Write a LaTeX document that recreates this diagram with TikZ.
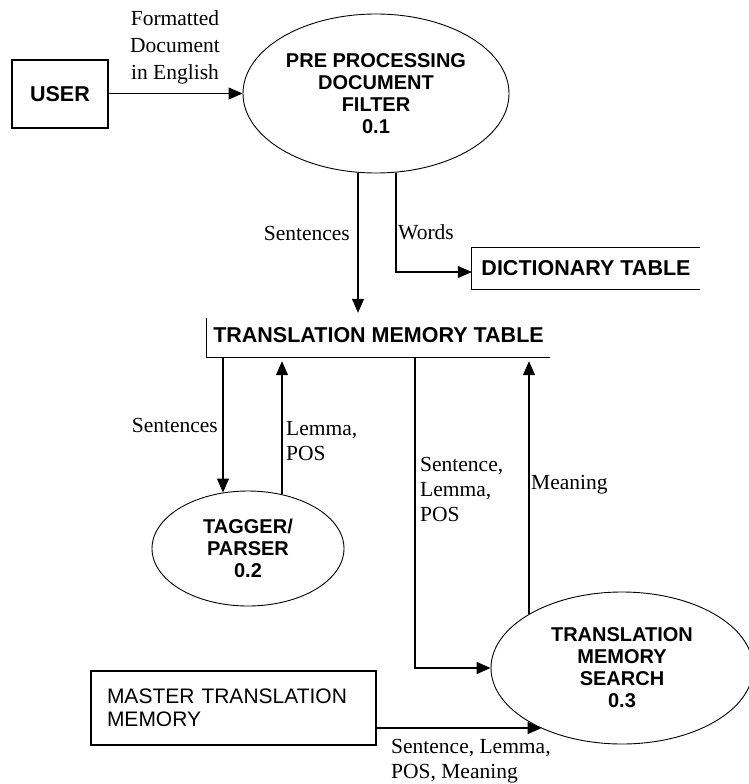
\documentclass[tikz,border=0pt]{standalone}
\usepackage{fontspec}
\setmainfont{Liberation Serif}
\setsansfont{Liberation Sans}
\usetikzlibrary{arrows.meta,shapes.geometric}

\begin{document}
\begin{tikzpicture}[x=1pt,y=-1pt,
  flow/.style={line width=1.2pt,-{Triangle[length=14pt,width=12pt]}},
  plain/.style={line width=1.2pt},
  process/.style={ellipse,draw,line width=0.9pt,inner sep=0pt,align=center,
    font=\sffamily\bfseries\fontsize{20}{22}\selectfont},
  entity/.style={rectangle,draw,line width=1.2pt,inner sep=0pt,
    font=\sffamily\bfseries\fontsize{21.5}{23}\selectfont},
  store/.style={rectangle,inner sep=0pt,
    font=\sffamily\bfseries\fontsize{21.5}{23}\selectfont},
  flowlabel/.style={inner sep=0pt,align=left,font=\fontsize{21.5}{25}\selectfont},
]
\useasboundingbox (0,0) rectangle (749,784);

% external entities and processes
\node[entity,minimum width=96pt,minimum height=68pt] (user) at (60,94) {USER};
\node[process,minimum width=266pt,minimum height=159pt] (pre) at (376,93.5)
  {PRE PROCESSING\\DOCUMENT\\FILTER\\0.1};
\node[process,minimum width=192pt,minimum height=115pt] (tagger) at (248,548.5)
  {TAGGER/\\PARSER\\0.2};
\node[process,minimum width=262pt,minimum height=152pt] (search) at (622,668)
  {TRANSLATION\\MEMORY\\SEARCH\\0.3};
\node[rectangle,draw,line width=1.2pt,minimum width=285pt,minimum height=74pt,
  inner sep=0pt,text width=253pt,align=left,
  font=\sffamily\fontsize{21}{23}\selectfont] (master) at (233.5,708)
  {MASTER TRANSLATION\\MEMORY};

% data stores (open-sided)
\node[store,minimum width=228pt,minimum height=41pt] (dict) at (586,268.5) {DICTIONARY TABLE};
\node[store,minimum width=343pt,minimum height=44pt] (tm) at (378.5,335) {TRANSLATION MEMORY TABLE};
\draw[plain] (dict.north east) -- (dict.north west) -- (dict.south west) -- (dict.south east);
\draw[plain] ([yshift=-5pt]tm.north west) -- (tm.south west) -- (tm.south east);

% vertical lanes of the data flows
\coordinate (laneA) at (358,0);
\coordinate (laneB) at (396,0);
\coordinate (laneC) at (223,0);
\coordinate (laneD) at (282,0);
\coordinate (laneE) at (415,0);
\coordinate (laneF) at (529,0);
\coordinate (mrow) at ([yshift=-20pt]master.east);

% data flows
\draw[flow] (user.east |- pre.west) -- (pre.west);
\draw[flow] (laneA |- pre.south) -- (laneA |- tm.north);
\draw[flow] (laneB |- pre.south) |- ([yshift=-3.5pt]dict.west);
\draw[flow] (laneC |- tm.south) -- (laneC |- tagger.114);
\draw[flow,shorten >=4pt] (laneD |- tagger.58) -- (laneD |- tm.south);
\draw[flow] (laneE |- tm.south) |- (search.west);
\draw[flow,shorten >=4pt] (laneF |- search.150) -- (laneF |- tm.south);
\draw[flow] (mrow) -- (search.217 |- mrow);

% flow labels
\node[flowlabel,align=center,font=\fontsize{21.5}{27}\selectfont] (lfmt) at (175,47) {Formatted\\Document\\in English};
\node[flowlabel,anchor=east] (lsent1) at (350,233) {Sentences};
\node[flowlabel,anchor=west] (lwords) at (398,232) {Words};
\node[flowlabel,anchor=east] (lsent2) at (218,425) {Sentences};
\node[flowlabel,anchor=west] (llp) at (286,441) {Lemma,\\POS};
\node[flowlabel,anchor=west] (lslp) at (420,489) {Sentence,\\Lemma,\\POS};
\node[flowlabel,anchor=west] (lmean) at (531,485) {Meaning};
\node[flowlabel,anchor=west] (lslpm) at (391,761) {Sentence, Lemma,\\POS, Meaning};
\end{tikzpicture}
\end{document}
